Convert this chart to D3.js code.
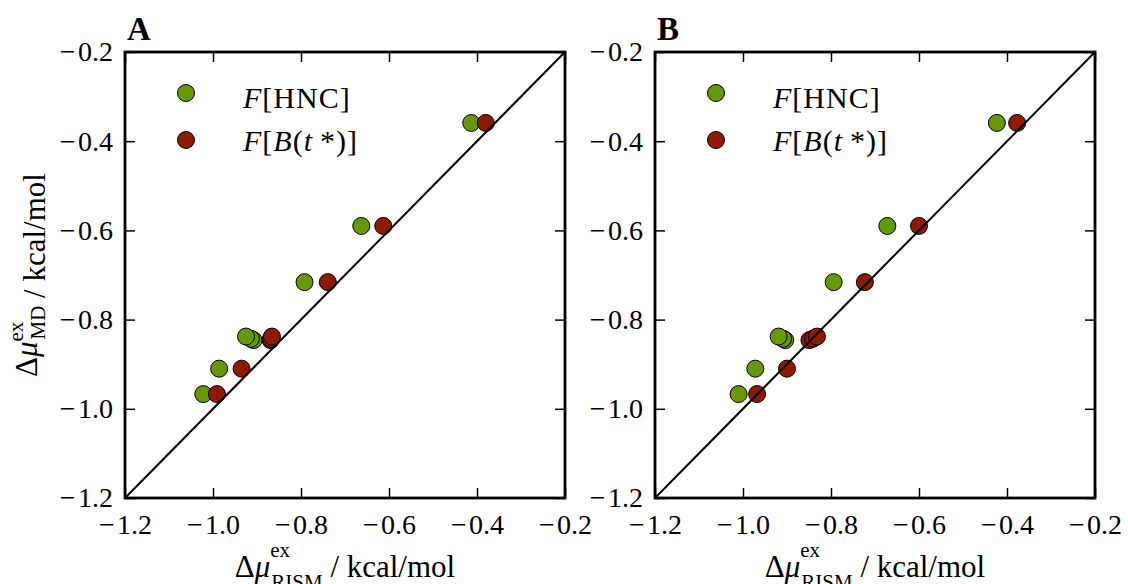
<!DOCTYPE html>
<html>
<head>
	<meta charset="utf-8">
	<script src="https://d3js.org/d3.v7.min.js"></script>
	<style>
		body { margin: 0; background: #fff; }
		text { font-family: "Liberation Serif", "DejaVu Serif", serif; fill: #000; }
	</style>
</head>
<body>
<div id="chart"></div>
<script>
	"use strict";

	// MD reference values (shared by both panels)
	var mdValues = [-0.967, -0.910, -0.846, -0.843, -0.838, -0.716, -0.590, -0.359];

	// panel A: RISM values
	var hncA = [-1.022, -0.986, -0.908, -0.914, -0.925, -0.792, -0.663, -0.413];
	var btA  = [-0.991, -0.935, -0.869, -0.868, -0.866, -0.739, -0.613, -0.380];

	// panel B: RISM values
	var hncB = [-1.010, -0.972, -0.904, -0.909, -0.919, -0.794, -0.672, -0.423];
	var btB  = [-0.968, -0.900, -0.849, -0.841, -0.832, -0.723, -0.600, -0.377];

	var axisTicks = [-1.2, -1.0, -0.8, -0.6, -0.4, -0.2];
	var panelNames = ["A", "B"];

	var width = 1128, height = 584;
	var pw = 440, ph = 446, plotTop = 52;
	var lefts = [125, 655];
	var green = "#66990a", red = "#8c1a04";

	var svg = d3.select("#chart").append("svg")
		.attr("width", width)
		.attr("height", height);

	svg.append("rect").attr("width", width).attr("height", height).attr("fill", "#fff");

	var x = d3.scaleLinear().domain([-1.2, -0.2]).range([0, pw]);
	var y = d3.scaleLinear().domain([-1.2, -0.2]).range([ph, 0]);

	function fmt(d) {
		return (d < 0 ? "\u2212\u200a" : "") + Math.abs(d).toFixed(1);
	}

	function drawPanel(i, hnc, bt) {
		var g = svg.append("g").attr("transform", "translate(" + lefts[i] + "," + plotTop + ")");

		// ticks on all four sides, pointing inward
		g.append("g").attr("transform", "translate(0," + ph + ")")
			.call(d3.axisBottom(x).tickValues(axisTicks).tickSizeInner(-10).tickSizeOuter(0).tickPadding(16).tickFormat(fmt));
		g.append("g")
			.call(d3.axisLeft(y).tickValues(axisTicks).tickSizeInner(-10).tickSizeOuter(0).tickPadding(12).tickFormat(fmt));
		g.append("g")
			.call(d3.axisTop(x).tickValues(axisTicks).tickSizeInner(-10).tickSizeOuter(0).tickFormat(""));
		g.append("g").attr("transform", "translate(" + pw + ",0)")
			.call(d3.axisRight(y).tickValues(axisTicks).tickSizeInner(-10).tickSizeOuter(0).tickFormat(""));

		g.selectAll(".domain").remove();
		g.selectAll(".tick line").attr("stroke", "#000").attr("stroke-width", 1.5);
		g.selectAll(".tick text")
			.style("font-family", "'Liberation Serif', serif")
			.style("font-size", "28px")
			.attr("fill", "#000");

		// points
		var data = [];
		mdValues.forEach(function(m, k) { data.push({ r: hnc[k], m: m, c: green }); });
		mdValues.forEach(function(m, k) { data.push({ r: bt[k], m: m, c: red }); });

		g.selectAll("circle.pt").data(data).enter().append("circle")
			.attr("class", "pt")
			.attr("cx", function(d) { return x(d.r); })
			.attr("cy", function(d) { return y(d.m); })
			.attr("r", 8.5)
			.attr("fill", function(d) { return d.c; })
			.attr("stroke", "#000")
			.attr("stroke-width", 1);

		// y = x line
		g.append("line")
			.attr("x1", x(-1.2)).attr("y1", y(-1.2))
			.attr("x2", x(-0.2)).attr("y2", y(-0.2))
			.attr("stroke", "#000").attr("stroke-width", 2);

		// frame
		g.append("rect")
			.attr("width", pw).attr("height", ph)
			.attr("fill", "none").attr("stroke", "#000").attr("stroke-width", 2.8);

		// legend
		var leg = [
			{ c: green, cy: 41, ty: 56, parts: [["F", "italic"], ["[HNC]", "normal"]] },
			{ c: red, cy: 88, ty: 99, parts: [["F", "italic"], ["[", "normal"], ["B", "italic"], ["(", "normal"], ["t", "italic"], ["\u2009*", "normal"], [")]", "normal"]] }
		];
		leg.forEach(function(l) {
			g.append("circle").attr("cx", 61).attr("cy", l.cy).attr("r", 8.5)
				.attr("fill", l.c).attr("stroke", "#000").attr("stroke-width", 1);
			var t = g.append("text").attr("x", 118).attr("y", l.ty)
				.style("font-size", "30px").style("letter-spacing", "1px");
			l.parts.forEach(function(p) {
				t.append("tspan").style("font-style", p[1]).text(p[0]);
			});
		});

		// panel letter
		svg.append("text")
			.attr("x", lefts[i] + 2).attr("y", 40)
			.style("font-size", "33px").style("font-weight", "bold")
			.text(panelNames[i]);

		// x axis label
		var xl = svg.append("text")
			.attr("x", lefts[i] + pw / 2).attr("y", 577)
			.attr("text-anchor", "middle")
			.style("font-size", "31px");
		xl.append("tspan").text("\u0394");
		xl.append("tspan").style("font-style", "italic").text("\u03bc");
		var sup = xl.append("tspan").attr("dy", -20).style("font-size", "21px").text("ex");
		var sub = xl.append("tspan").attr("dy", 32).style("font-size", "21px").text("RISM");
		xl.append("tspan").attr("dy", -12).text(" / kcal/mol");
		sub.attr("dx", -sup.node().getComputedTextLength() + 1);
	}

	drawPanel(0, hncA, btA);
	drawPanel(1, hncB, btB);

	// y axis label (left panel only)
	var yl = svg.append("text")
		.attr("transform", "translate(45," + (plotTop + ph / 2) + ") rotate(-90)")
		.attr("text-anchor", "middle")
		.style("font-size", "31px");
	yl.append("tspan").attr("dy", -8).text("\u0394");
	yl.append("tspan").style("font-style", "italic").text("\u03bc");
	var ysup = yl.append("tspan").attr("dy", -14).style("font-size", "21px").text("ex");
	var ysub = yl.append("tspan").attr("dy", 22).style("font-size", "21px").text("MD");
	yl.append("tspan").attr("dy", 0).text(" / kcal/mol");
	ysub.attr("dx", -ysup.node().getComputedTextLength() + 2);
</script>
</body>
</html>
